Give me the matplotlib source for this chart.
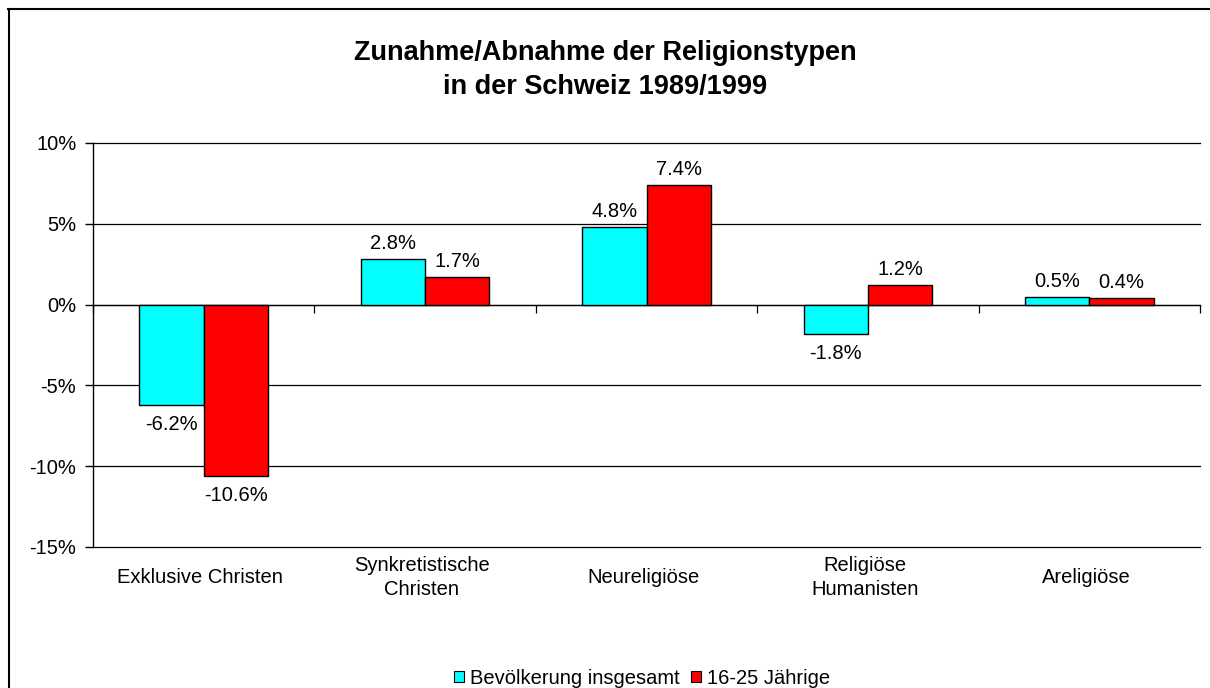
import matplotlib
matplotlib.use('Agg')
import matplotlib.pyplot as plt
from matplotlib.lines import Line2D
from matplotlib.patches import Patch
import numpy as np

plt.rcParams['font.family'] = ['Liberation Sans', 'DejaVu Sans']

# --- Daten ---
kategorien = ['Exklusive Christen', 'Synkretistische\nChristen', 'Neureligiöse',
              'Religiöse\nHumanisten', 'Areligiöse']
bevoelkerung = [-6.2, 2.8, 4.8, -1.8, 0.5]
jaehrige = [-10.6, 1.7, 7.4, 1.2, 0.4]
serien = ['Bevölkerung insgesamt', '16-25 Jährige']
farben = ['#00FFFF', '#FF0000']
titel = 'Zunahme/Abnahme der Religionstypen\nin der Schweiz 1989/1999'

FS = 14.5
W, H = 1210, 688
fig = plt.figure(figsize=(W / 100, H / 100), dpi=100)
ax = fig.add_axes([93 / W, 1 - 547 / H, (1200 - 93) / W, (547 - 143) / H])

x = np.arange(len(kategorien))
bw = 0.29
for i, (werte, farbe) in enumerate(zip([bevoelkerung, jaehrige], farben)):
    pos = x + (i - 0.5) * bw
    ax.bar(pos, werte, width=bw, color=farbe, edgecolor='black', linewidth=1, zorder=3)
    for px, v in zip(pos, werte):
        if v >= 0:
            ax.annotate(f'{v:.1f}%', (px, v), xytext=(0, 6), textcoords='offset pixels',
                        ha='center', va='bottom', fontsize=FS)
        else:
            ax.annotate(f'{v:.1f}%', (px, v), xytext=(0, -10), textcoords='offset pixels',
                        ha='center', va='top', fontsize=FS)

ax.set_xlim(-0.5, len(kategorien) - 0.5)
ax.set_ylim(-15, 10)
ax.set_yticks(range(-15, 11, 5))
ax.set_yticklabels([f'{t}%' for t in range(-15, 11, 5)], fontsize=FS)
for t in range(-15, 11, 5):
    ax.axhline(t, color='black', lw=0.9, zorder=1, clip_on=False)

# Kategorienachse bei 0
ax.spines['bottom'].set_position(('data', 0))
ax.spines['bottom'].set_linewidth(0.9)
ax.spines['top'].set_visible(False)
ax.spines['right'].set_visible(False)
ax.spines['left'].set_linewidth(1)
ax.set_xticks(np.arange(-0.5, len(kategorien), 1.0))
ax.set_xticklabels([])
ax.tick_params(axis='x', direction='out', length=6, width=0.9)
ax.tick_params(axis='y', direction='out', length=6, width=1, pad=6)

trans = ax.get_xaxis_transform()
for xi, k in zip(x, kategorien):
    ax.text(xi - 0.015, -0.075, k, transform=trans, ha='center', va='center',
            fontsize=FS, linespacing=1.3, multialignment='center')

fig.text(0.5, 1 - 70 / H, titel, ha='center', va='center', fontsize=19.5,
         fontweight='bold', linespacing=1.4)

handles = [Patch(facecolor=f, edgecolor='black', linewidth=0.8) for f in farben]
fig.legend(handles, serien, loc='center', bbox_to_anchor=(642 / W, 10 / H), ncol=2,
           frameon=False, fontsize=FS, handlelength=0.5, handleheight=0.5,
           handletextpad=0.3, columnspacing=0.55, borderpad=0, borderaxespad=0)

# Rahmen
fig.add_artist(Line2D([8 / W, 1.0], [1 - 8.5 / H, 1 - 8.5 / H], transform=fig.transFigure,
                      color='black', lw=1.5))
fig.add_artist(Line2D([8.5 / W, 8.5 / W], [0, 1 - 8.5 / H], transform=fig.transFigure,
                      color='black', lw=1.5))

fig.savefig('out.png', dpi=100)
